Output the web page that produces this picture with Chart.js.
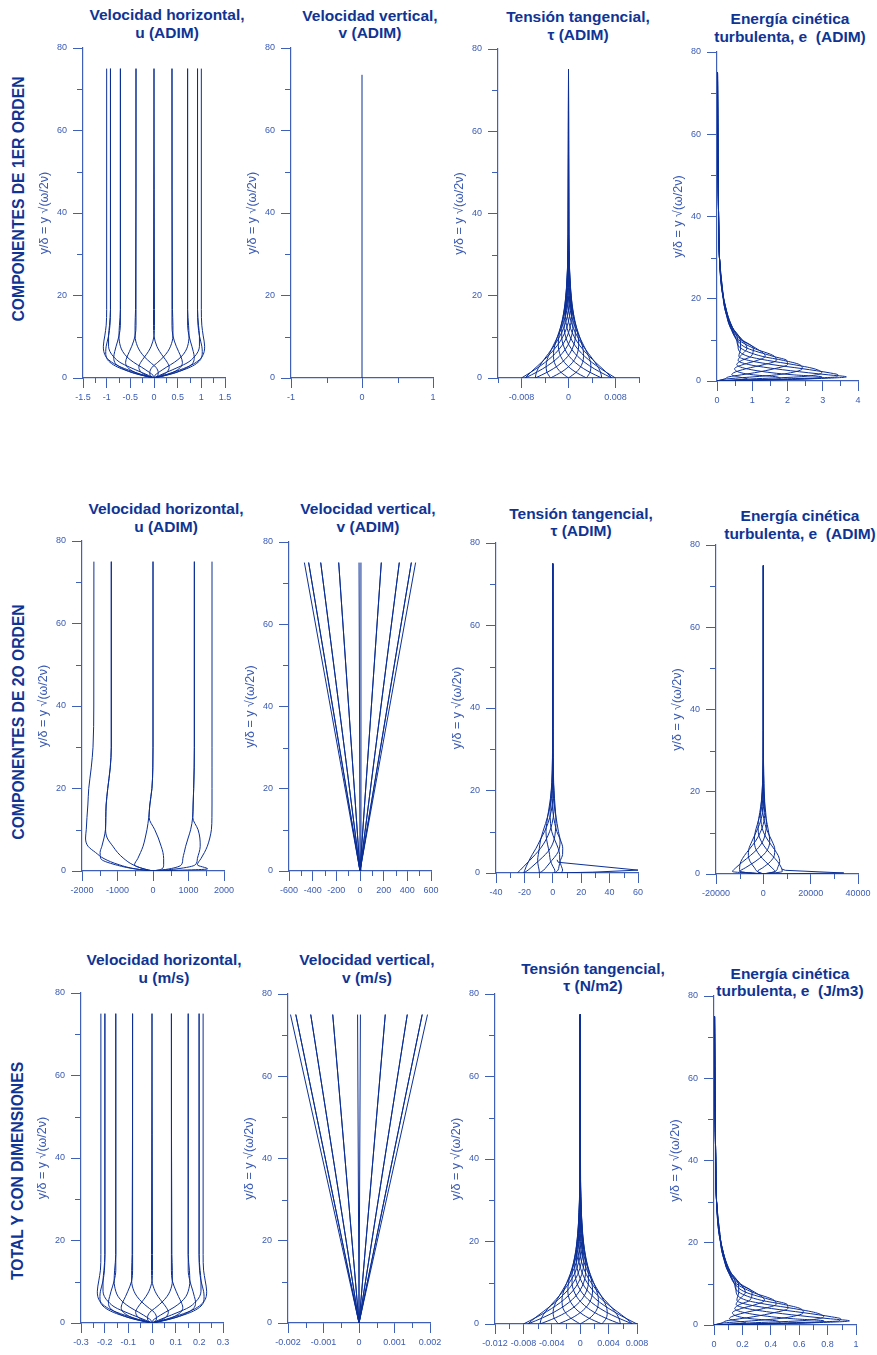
<!DOCTYPE html>
<html lang="es">
<head>
<meta charset="utf-8">
<title>Componentes de velocidad, tensión y energía</title>
<script src="https://cdn.jsdelivr.net/npm/chart.js@4.4.1/dist/chart.umd.min.js"></script>
<style>
  html, body { margin: 0; padding: 0; background: #fff; overflow: hidden; }
  #page { position: relative; width: 877px; height: 1355px; overflow: hidden; font-family: 'Liberation Sans', Arial, sans-serif; }
  .ttl { position: absolute; width: 220px; text-align: center; font-weight: bold; font-size: 15.5px; line-height: 17.8px; color: #0f3494; white-space: pre; }
  .row { position: absolute; font-weight: bold; font-size: 15.7px; color: #0f3494; white-space: nowrap; transform: translate(-50%, -50%) rotate(-90deg); }
  canvas { position: absolute; }
</style>
</head>
<body>
<div id="page">
  <div class="ttl" style="left:57px;top:6px">Velocidad horizontal,<br>u (ADIM)</div>
  <div class="ttl" style="left:260px;top:6.5px">Velocidad vertical,<br>v (ADIM)</div>
  <div class="ttl" style="left:468px;top:8px">Tensión tangencial,<br>τ (ADIM)</div>
  <div class="ttl" style="left:680px;top:10px">Energía cinética<br>turbulenta, e  (ADIM)</div>

  <div class="ttl" style="left:56px;top:500px">Velocidad horizontal,<br>u (ADIM)</div>
  <div class="ttl" style="left:258px;top:500px">Velocidad vertical,<br>v (ADIM)</div>
  <div class="ttl" style="left:471px;top:504.5px">Tensión tangencial,<br>τ (ADIM)</div>
  <div class="ttl" style="left:690px;top:507px">Energía cinética<br>turbulenta, e  (ADIM)</div>

  <div class="ttl" style="left:54px;top:951px">Velocidad horizontal,<br>u (m/s)</div>
  <div class="ttl" style="left:257px;top:951px">Velocidad vertical,<br>v (m/s)</div>
  <div class="ttl" style="left:483px;top:959.5px">Tensión tangencial,<br>τ (N/m2)</div>
  <div class="ttl" style="left:680px;top:964.5px">Energía cinética<br>turbulenta, e  (J/m3)</div>

  <div class="row" style="left:18.5px;top:199px">COMPONENTES DE 1ER ORDEN</div>
  <div class="row" style="left:19.3px;top:722px">COMPONENTES DE 2O ORDEN</div>
  <div class="row" style="left:18.3px;top:1171px">TOTAL Y CON DIMENSIONES</div>
</div>
<script>
// colours and fonts
const CURVE = '#0b2f96';
const AXIS = '#4060b8';
const LABEL = '#3a5ab4';
const FONT = "'Liberation Sans', Arial, sans-serif";

// ---------- Componentes de 1er orden ----------
const yU = [0, 0.65, 1.3, 2.6, 3.8, 5.1, 6.4, 7.7, 10.2, 12.8, 16.6, 75];
const uAdim = [
  [0, 0.20, 0.38, 0.69, 0.89, 1.01, 1.06, 1.07, 1.04, 1.01, 1.00, 1.00],
  [0, 0.12, 0.25, 0.51, 0.72, 0.85, 0.93, 0.96, 0.96, 0.94, 0.92, 0.92],
  [0, 0.02, 0.09, 0.26, 0.43, 0.57, 0.66, 0.71, 0.74, 0.73, 0.71, 0.71],
  [0, -0.08, -0.09, -0.04, 0.08, 0.20, 0.29, 0.35, 0.40, 0.40, 0.39, 0.38],
  [0, -0.16, -0.26, -0.32, -0.28, -0.20, -0.12, -0.06, 0.00, 0.01, 0.01, 0],
  [0, -0.23, -0.39, -0.56, -0.60, -0.57, -0.52, -0.47, -0.40, -0.38, -0.38, -0.38],
  [0, -0.26, -0.46, -0.71, -0.83, -0.85, -0.83, -0.80, -0.74, -0.71, -0.71, -0.71],
  [0, -0.24, -0.45, -0.76, -0.93, -1.01, -1.02, -1.01, -0.96, -0.93, -0.92, -0.92],
  [0, -0.20, -0.38, -0.69, -0.89, -1.01, -1.06, -1.07, -1.04, -1.01, -1.00, -1.00],
  [0, -0.12, -0.25, -0.51, -0.72, -0.85, -0.93, -0.96, -0.96, -0.94, -0.92, -0.92],
  [0, -0.02, -0.09, -0.26, -0.43, -0.57, -0.66, -0.71, -0.74, -0.73, -0.71, -0.71],
  [0, 0.08, 0.09, 0.04, -0.08, -0.20, -0.29, -0.35, -0.40, -0.40, -0.39, -0.38],
  [0, 0.16, 0.26, 0.32, 0.28, 0.20, 0.12, 0.06, 0.00, -0.01, -0.01, 0],
  [0, 0.23, 0.39, 0.56, 0.60, 0.57, 0.52, 0.47, 0.40, 0.38, 0.38, 0.38],
  [0, 0.26, 0.46, 0.71, 0.83, 0.85, 0.83, 0.80, 0.74, 0.71, 0.71, 0.71],
  [0, 0.24, 0.45, 0.76, 0.93, 1.01, 1.02, 1.01, 0.96, 0.93, 0.92, 0.92]
];

const yV1 = [0, 73.5];
const vAdim1 = [0, 0];

const yT = [0, 1.5, 3, 4.5, 6, 8, 10, 12, 15, 18, 22, 27, 35, 75];
const tauAdim = [
  [0.008, 0.00631, 0.00474, 0.00337, 0.00222, 0.00106, 0.00027, -0.00021, -0.00051, -0.00051, -0.00035, -0.00013, 0.00001, 0],
  [0.00739, 0.00636, 0.00521, 0.00408, 0.00303, 0.00186, 0.00098, 0.00036, -0.00017, -0.00035, -0.00032, -0.00016, -0.00001, 0],
  [0.00566, 0.00544, 0.00488, 0.00417, 0.00338, 0.00239, 0.00154, 0.00086, 0.0002, -0.00013, -0.00025, -0.00017, -0.00002, 0],
  [0.00306, 0.00369, 0.00381, 0.00362, 0.00322, 0.00255, 0.00186, 0.00124, 0.00053, 0.00011, -0.00013, -0.00015, -0.00004, 0],
  [0, 0.00138, 0.00217, 0.00252, 0.00256, 0.00232, 0.0019, 0.00143, 0.00079, 0.00033, 0, -0.00011, -0.00005, 0],
  [-0.00306, -0.00114, 0.00019, 0.00104, 0.00152, 0.00174, 0.00165, 0.0014, 0.00092, 0.0005, 0.00013, -0.00005, -0.00005, 0],
  [-0.00566, -0.00349, -0.00182, -0.0006, 0.00024, 0.00089, 0.00115, 0.00115, 0.00092, 0.0006, 0.00025, 0.00001, -0.00004, 0],
  [-0.00739, -0.0053, -0.00355, -0.00215, -0.00107, -0.00009, 0.00048, 0.00074, 0.00077, 0.0006, 0.00032, 0.00008, -0.00003, 0],
  [-0.008, -0.00631, -0.00474, -0.00337, -0.00222, -0.00106, -0.00027, 0.00021, 0.00051, 0.00051, 0.00035, 0.00013, -0.00001, 0],
  [-0.00739, -0.00636, -0.00521, -0.00408, -0.00303, -0.00186, -0.00098, -0.00036, 0.00017, 0.00035, 0.00032, 0.00016, 0.00001, 0],
  [-0.00566, -0.00544, -0.00488, -0.00417, -0.00338, -0.00239, -0.00154, -0.00086, -0.0002, 0.00013, 0.00025, 0.00017, 0.00002, 0],
  [-0.00306, -0.00369, -0.00381, -0.00362, -0.00322, -0.00255, -0.00186, -0.00124, -0.00053, -0.00011, 0.00013, 0.00015, 0.00004, 0],
  [0, -0.00138, -0.00217, -0.00252, -0.00256, -0.00232, -0.0019, -0.00143, -0.00079, -0.00033, 0, 0.00011, 0.00005, 0],
  [0.00306, 0.00114, -0.00019, -0.00104, -0.00152, -0.00174, -0.00165, -0.0014, -0.00092, -0.0005, -0.00013, 0.00005, 0.00005, 0],
  [0.00566, 0.00349, 0.00182, 0.0006, -0.00024, -0.00089, -0.00115, -0.00115, -0.00092, -0.0006, -0.00025, -0.00001, 0.00004, 0],
  [0.00739, 0.0053, 0.00355, 0.00215, 0.00107, 0.00009, -0.00048, -0.00074, -0.00077, -0.0006, -0.00032, -0.00008, 0.00003, 0]
];

const yE = [0, 0.5, 1, 1.5, 2, 3, 4, 5, 6, 8, 10, 13, 17, 22, 30, 40, 55, 75];
const eAdim = [
  [0, 2.53, 3.67, 3.16, 2.60, 1.63, 0.90, 0.60, 0.66, 0.85, 0.71, 0.43, 0.24, 0.16, 0.07, 0.045, 0.025, 0.015],
  [0, 1.89, 3.39, 3.43, 3.18, 2.42, 1.56, 0.90, 0.62, 0.67, 0.66, 0.44, 0.24, 0.15, 0.07, 0.045, 0.025, 0.015],
  [0, 0.96, 2.30, 2.82, 2.97, 2.75, 2.16, 1.44, 0.88, 0.60, 0.59, 0.44, 0.26, 0.15, 0.07, 0.045, 0.025, 0.015],
  [0, 0.27, 1.02, 1.69, 2.09, 2.42, 2.34, 1.89, 1.28, 0.67, 0.55, 0.42, 0.27, 0.14, 0.07, 0.045, 0.025, 0.015],
  [0, 0.22, 0.33, 0.69, 1.06, 1.63, 2.00, 1.98, 1.59, 0.85, 0.56, 0.40, 0.27, 0.14, 0.07, 0.045, 0.025, 0.015],
  [0, 0.86, 0.61, 0.42, 0.47, 0.83, 1.34, 1.68, 1.63, 1.03, 0.61, 0.38, 0.27, 0.15, 0.07, 0.045, 0.025, 0.015],
  [0, 1.79, 1.70, 1.03, 0.68, 0.50, 0.74, 1.14, 1.37, 1.10, 0.68, 0.38, 0.26, 0.15, 0.07, 0.045, 0.025, 0.015],
  [0, 2.48, 2.98, 2.16, 1.56, 0.83, 0.56, 0.70, 0.97, 1.03, 0.72, 0.40, 0.24, 0.16, 0.07, 0.045, 0.025, 0.015]
];

// ---------- Componentes de 2o orden ----------
const yU2 = [0, 0.5, 1.5, 3, 4.5, 6, 8, 10, 13, 16, 20, 25, 30, 40, 75];
const uOrden2 = [
  [0, 1540, 1250, 1350, 1450, 1530, 1600, 1645, 1660, 1662, 1662, 1662, 1662, 1662, 1662],
  [0, 450, 800, 840, 880, 920, 990, 1060, 1118, 1130, 1146, 1160, 1165, 1165, 1165],
  [0, -250, -520, -430, -350, -280, -220, -170, -120, -90, -30, -5, 0, 0, 0],
  [0, -250, -560, -820, -1000, -1130, -1290, -1335, -1330, -1320, -1275, -1205, -1175, -1175, -1175],
  [0, -480, -950, -1380, -1620, -1830, -1900, -1880, -1860, -1835, -1810, -1740, -1690, -1668, -1665],
  [0, -500, -1050, -1470, -1490, -1440, -1380, -1340, -1330, -1320, -1275, -1205, -1175, -1175, -1175],
  [0, 250, 300, 300, 280, 230, 150, 50, -110, -90, -30, -5, 0, 0, 0],
  [0, 650, 1190, 1250, 1300, 1330, 1320, 1270, 1120, 1130, 1146, 1160, 1165, 1165, 1165]
];

const yV2 = [0, 75];
const vTopOrden2 = [-470, -434, -434, -332, -332, -180, -180, -8, 8, 180, 180, 332, 332, 434, 434, 470];

const yT2 = [0, 0.7, 1.5, 3, 4.5, 6, 8, 10, 12, 15, 18, 22, 28, 35, 75];
const tauOrden2 = [
  [6.0, 6.9, 6.2, 4.9, 4.8, 3.8, 1.4, -0.7, -1.6, -1.9, -1.5, -0.7, -0.2, 0.01, 0],
  [1.5, 3.7, 4.3, 5.3, 6.9, 7.0, 5.4, 2.9, 1.4, 0.0, -0.55, -0.5, -0.25, -0.02, 0],
  [-9.5, -6.4, -4.4, -0.8, 2.7, 4.7, 5.1, 4.0, 3.0, 1.6, 0.5, -0.05, -0.19, -0.05, 0],
  [-20.5, -17.4, -14.7, -9.8, -5.2, -1.7, 0.8, 1.8, 2.2, 1.9, 1.2, 0.4, -0.02, -0.04, 0],
  [-25, -22.9, -20.7, -16.4, -12.3, -8.6, -4.9, -2.3, -0.5, 0.8, 1.0, 0.6, 0.16, -0.01, 0],
  [-20.5, -19.7, -18.8, -16.8, -14.4, -11.8, -8.9, -5.9, -3.5, -1.1, 0.05, 0.4, 0.25, 0.02, 0],
  [-9.5, -9.6, -10.1, -10.7, -10.2, -9.5, -8.6, -7.0, -5.1, -2.7, -1.0, -0.05, 0.19, 0.05, 0],
  [1.5, 1.4, 0.2, -1.7, -2.3, -3.1, -4.3, -4.8, -4.3, -3.0, -1.7, -0.5, 0.02, 0.04, 0]
];
const yTauSpike = [0, 0.2, 0.7, 2.6, 3.2];
const tauSpike = [0, 28, 60, 3.8, 3.0];

const yE2 = [0, 0.6, 1.5, 3, 4.5, 6, 8, 10, 12, 15, 18, 22, 28, 35, 75];
const eOrden2 = [
  [0, 8000, 7650, 6060, 3750, 1350, -920, -2100, -2210, -1500, -680, -100, 70, 11, 0],
  [0, 4920, 6030, 6910, 6270, 4650, 2180, 180, -820, -1130, -790, -300, 13, 15, 0],
  [0, -2500, -300, 2950, 4630, 4850, 3680, 2000, 780, -250, -510, -350, -55, 9, 0],
  [0, -9920, -7630, -3500, -230, 1830, 2710, 2300, 1670, 630, -10, -220, -97, -3, 0],
  [0, -13000, -11650, -8660, -5450, -2650, -180, 900, 1310, 1000, 430, 0, -90, -15, 0],
  [0, -9920, -10030, -9510, -7970, -5950, -3280, -1380, -80, 630, 540, 200, -33, -19, 0],
  [0, -2500, -3700, -5550, -6330, -6150, -4780, -3200, -1680, -250, 260, 250, 35, -13, 0],
  [0, 4920, 3630, 900, -1470, -3130, -3810, -3500, -2570, -1130, -240, 120, 77, -1, 0]
];
const yESpike = [0, 0.1, 0.25, 0.9, 1.2];
const eSpike = [0, 15000, 34000, 9300, 7800];

// ---------- Total y con dimensiones ----------
const uTotal = [
  [0, 0.043, 0.082, 0.149, 0.192, 0.218, 0.229, 0.231, 0.225, 0.218, 0.216, 0.216],
  [0, 0.026, 0.054, 0.110, 0.156, 0.184, 0.201, 0.207, 0.207, 0.203, 0.199, 0.199],
  [0, 0.004, 0.019, 0.056, 0.093, 0.123, 0.143, 0.153, 0.160, 0.158, 0.153, 0.153],
  [0, -0.017, -0.019, -0.009, 0.017, 0.043, 0.063, 0.076, 0.086, 0.086, 0.084, 0.082],
  [0, -0.035, -0.056, -0.069, -0.060, -0.043, -0.026, -0.013, 0, 0.002, 0.002, 0],
  [0, -0.050, -0.084, -0.121, -0.130, -0.123, -0.112, -0.102, -0.086, -0.082, -0.082, -0.082],
  [0, -0.056, -0.099, -0.153, -0.179, -0.184, -0.179, -0.173, -0.160, -0.153, -0.153, -0.153],
  [0, -0.052, -0.097, -0.164, -0.201, -0.218, -0.220, -0.218, -0.207, -0.201, -0.199, -0.199],
  [0, -0.043, -0.082, -0.149, -0.192, -0.218, -0.229, -0.231, -0.225, -0.218, -0.216, -0.216],
  [0, -0.026, -0.054, -0.110, -0.156, -0.184, -0.201, -0.207, -0.207, -0.203, -0.199, -0.199],
  [0, -0.004, -0.019, -0.056, -0.093, -0.123, -0.143, -0.153, -0.160, -0.158, -0.153, -0.153],
  [0, 0.017, 0.019, 0.009, -0.017, -0.043, -0.063, -0.076, -0.086, -0.086, -0.084, -0.082],
  [0, 0.035, 0.056, 0.069, 0.060, 0.043, 0.026, 0.013, 0, -0.002, -0.002, 0],
  [0, 0.050, 0.084, 0.121, 0.130, 0.123, 0.112, 0.102, 0.086, 0.082, 0.082, 0.082],
  [0, 0.056, 0.099, 0.153, 0.179, 0.184, 0.179, 0.173, 0.160, 0.153, 0.153, 0.153],
  [0, 0.052, 0.097, 0.164, 0.201, 0.218, 0.220, 0.218, 0.207, 0.201, 0.199, 0.199]
];

const yV3 = [0, 75];
const vTopTotal = [-0.00193, -0.00178, -0.00178, -0.00136, -0.00136, -0.00074, -0.00074, -0.00004,
                   0.00004, 0.00074, 0.00074, 0.00136, 0.00136, 0.00178, 0.00178, 0.00193];

// the total shear stress reads the same as the first-order one
const tauTotal = tauAdim;

const eTotal = [
  [0, 0.658, 0.954, 0.822, 0.676, 0.424, 0.234, 0.156, 0.172, 0.221, 0.185, 0.112, 0.062, 0.042, 0.018, 0.012, 0.0065, 0.004],
  [0, 0.491, 0.881, 0.892, 0.827, 0.629, 0.406, 0.234, 0.161, 0.174, 0.172, 0.114, 0.062, 0.039, 0.018, 0.012, 0.0065, 0.004],
  [0, 0.250, 0.598, 0.733, 0.772, 0.715, 0.562, 0.374, 0.229, 0.156, 0.153, 0.114, 0.068, 0.039, 0.018, 0.012, 0.0065, 0.004],
  [0, 0.070, 0.265, 0.439, 0.543, 0.629, 0.608, 0.491, 0.333, 0.174, 0.143, 0.109, 0.070, 0.036, 0.018, 0.012, 0.0065, 0.004],
  [0, 0.057, 0.086, 0.179, 0.276, 0.424, 0.520, 0.515, 0.413, 0.221, 0.146, 0.104, 0.070, 0.036, 0.018, 0.012, 0.0065, 0.004],
  [0, 0.224, 0.159, 0.109, 0.122, 0.216, 0.348, 0.437, 0.424, 0.268, 0.159, 0.099, 0.070, 0.039, 0.018, 0.012, 0.0065, 0.004],
  [0, 0.465, 0.442, 0.268, 0.177, 0.130, 0.192, 0.296, 0.356, 0.286, 0.177, 0.099, 0.068, 0.039, 0.018, 0.012, 0.0065, 0.004],
  [0, 0.645, 0.775, 0.562, 0.406, 0.216, 0.146, 0.182, 0.252, 0.268, 0.187, 0.104, 0.062, 0.042, 0.018, 0.012, 0.0065, 0.004]
];

// y axis (same for every panel)
const yTickLabels = [0, 20, 40, 60, 80];

// ---------- helpers ----------
function lineSet(ys, xs, smooth) {
  return {
    data: xs.map((x, i) => ({ x: x, y: ys[i] })),
    showLine: true,
    borderColor: CURVE,
    borderWidth: 1,
    pointRadius: 0,
    fill: false,
    cubicInterpolationMode: smooth ? 'monotone' : 'default',
    tension: 0
  };
}
const curves = (ys, list) => list.map(xs => lineSet(ys, xs, true));
const rays = (ys, tops) => tops.map(v => lineSet(ys, [0, v], false));

function fmt(v) { return String(parseFloat(v.toPrecision(6))); }
function isLabel(list, v, step) { return list.some(l => Math.abs(l - v) < step * 0.01); }

const YW = 46, PT = 8, PR = 18, XH = 28;

function xScale(min, max, step, labels) {
  return {
    type: 'linear', position: 'bottom', min: min, max: max,
    afterFit: s => { s.height = XH; s.paddingLeft = 0; s.paddingRight = 0; },
    border: { display: true, color: AXIS, width: 1.2 },
    grid: {
      display: true, drawOnChartArea: false, drawTicks: true, tickLength: 10, tickWidth: 1,
      tickColor: c => (c.tick && c.tick.label === '') ? 'rgba(0,0,0,0)' : AXIS
    },
    ticks: {
      stepSize: step, autoSkip: false, maxRotation: 0, minRotation: 0, maxTicksLimit: 100,
      padding: 4, color: LABEL, font: { family: FONT, size: 9 },
      callback: v => isLabel(labels, v, step) ? fmt(v) : ''
    }
  };
}

function yScale() {
  return {
    type: 'linear', position: 'left', min: 0, max: 80,
    afterFit: s => { s.width = YW; s.paddingTop = 0; s.paddingBottom = 0; },
    border: { display: true, color: AXIS, width: 1.2 },
    grid: {
      display: true, drawOnChartArea: false, drawTicks: true, tickLength: 10, tickWidth: 1,
      tickColor: c => (c.tick && c.tick.label === '') ? 'rgba(0,0,0,0)' : AXIS
    },
    ticks: {
      stepSize: 10, autoSkip: false, padding: 6, color: LABEL, font: { family: FONT, size: 9 },
      callback: v => isLabel(yTickLabels, v, 10) ? fmt(v) : ''
    },
    title: {
      display: true, text: 'y/δ = y √(ω/2ν)', color: LABEL,
      font: { family: FONT, size: 12.5 }, padding: { top: 0, bottom: 0 }
    }
  };
}

// short unlabeled ticks
const minorTicks = {
  id: 'minorTicks',
  afterDraw(chart) {
    const { ctx, chartArea: a, scales } = chart;
    ctx.save();
    ctx.strokeStyle = AXIS;
    ctx.lineWidth = 1;
    ctx.beginPath();
    scales.x.ticks.forEach(t => {
      if (t.label !== '') return;
      const p = Math.round(scales.x.getPixelForValue(t.value)) + 0.5;
      ctx.moveTo(p, a.bottom); ctx.lineTo(p, a.bottom + 5);
    });
    scales.y.ticks.forEach(t => {
      if (t.label !== '') return;
      const p = Math.round(scales.y.getPixelForValue(t.value)) + 0.5;
      ctx.moveTo(a.left, p); ctx.lineTo(a.left - 6, p);
    });
    ctx.stroke();
    ctx.restore();
  }
};

// panel boxes: axis left, axis right, top (y=80), bottom (y=0)
const panels = [
  { box: [83, 225.3, 47.7, 377.7], x: [-1.5, 1.5, 0.25, [-1.5, -1, -0.5, 0, 0.5, 1, 1.5]], sets: curves(yU, uAdim) },
  { box: [290.7, 432.3, 48.3, 378.3], x: [-1, 1, 0.5, [-1, 0, 1]], sets: [lineSet(yV1, vAdim1, false)] },
  { box: [498, 639.3, 49, 378.3], x: [-0.012, 0.012, 0.004, [-0.008, 0, 0.008]], sets: curves(yT, tauAdim) },
  { box: [717.3, 858.7, 51.7, 380.7], x: [0, 4, 0.5, [0, 1, 2, 3, 4]], sets: curves(yE, eAdim) },

  { box: [81.7, 223.3, 541.3, 871], x: [-2000, 2000, 500, [-2000, -1000, 0, 1000, 2000]], sets: curves(yU2, uOrden2) },
  { box: [289, 430.7, 542.3, 871.7], x: [-600, 600, 100, [-600, -400, -200, 0, 200, 400, 600]], sets: rays(yV2, vTopOrden2) },
  { box: [496.3, 638, 542.7, 872.3], x: [-40, 60, 10, [-40, -20, 0, 20, 40, 60]],
    sets: curves(yT2, tauOrden2).concat([lineSet(yTauSpike, tauSpike, false)]) },
  { box: [715.7, 857.3, 545.3, 874.7], x: [-20000, 40000, 10000, [-20000, 0, 20000, 40000]],
    sets: curves(yE2, eOrden2).concat([lineSet(yESpike, eSpike, false)]) },

  { box: [80.7, 222.3, 992.7, 1322.3], x: [-0.3, 0.3, 0.05, [-0.3, -0.2, -0.1, 0, 0.1, 0.2, 0.3]], sets: curves(yU, uTotal) },
  { box: [287.7, 429.3, 993.7, 1323], x: [-0.002, 0.002, 0.0005, [-0.002, -0.001, 0, 0.001, 0.002]], sets: rays(yV3, vTopTotal) },
  { box: [495.3, 637, 993.7, 1323.3], x: [-0.012, 0.008, 0.002, [-0.012, -0.008, -0.004, 0, 0.004, 0.008]], sets: curves(yT, tauTotal) },
  { box: [714.3, 856, 996.3, 1325.7], x: [0, 1, 0.1, [0, 0.2, 0.4, 0.6, 0.8, 1]], sets: curves(yE, eTotal) }
];

Chart.defaults.font.family = FONT;
Chart.defaults.animation = false;

const page = document.getElementById('page');
panels.forEach(p => {
  const [l, r, t, b] = p.box;
  const L = Math.round(l), T = Math.round(t);
  const w = Math.round(r - l), h = Math.round(b - t);
  const cv = document.createElement('canvas');
  cv.width = w + YW + PR;
  cv.height = h + PT + XH;
  cv.style.width = cv.width + 'px';
  cv.style.height = cv.height + 'px';
  cv.style.left = (L - YW) + 'px';
  cv.style.top = (T - PT) + 'px';
  page.appendChild(cv);

  const [xmin, xmax, step, labels] = p.x;
  new Chart(cv, {
    type: 'scatter',
    data: { datasets: p.sets },
    options: {
      responsive: false,
      devicePixelRatio: 1,
      animation: false,
      events: [],
      indexAxis: 'y',
      layout: { padding: { left: 0, top: PT, right: PR, bottom: 0 } },
      plugins: { legend: { display: false }, tooltip: { enabled: false } },
      scales: { x: xScale(xmin, xmax, step, labels), y: yScale() }
    },
    plugins: [minorTicks]
  });
});
</script>
</body>
</html>
